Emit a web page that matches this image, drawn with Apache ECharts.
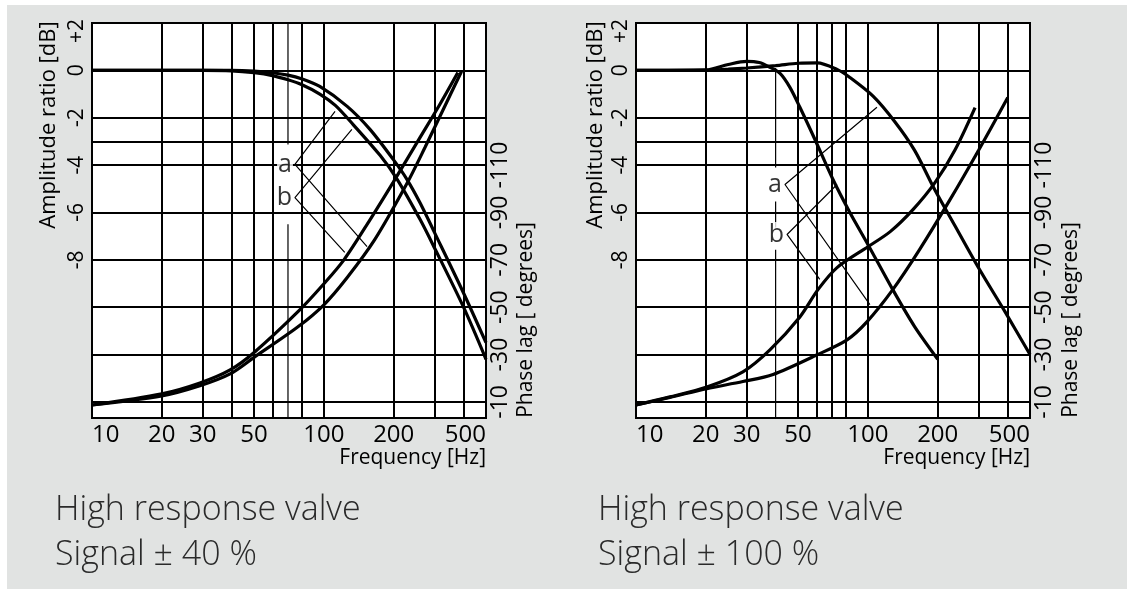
<!DOCTYPE html>
<html>
<head>
<meta charset="utf-8">
<script src="https://cdn.jsdelivr.net/npm/echarts@6/dist/echarts.min.js"></script>
<style>
html,body{margin:0;padding:0;background:#ffffff;}
#c{width:1133px;height:589px;}
</style>
</head>
<body>
<div id="c"></div>
<script>
// ---------- axis ticks / labels ----------
const xTickLabels = [10, 20, 30, 50, 100, 200, 500];
const xGridLeft  = [20, 30, 40, 50, 60, 80, 100, 200, 300, 400];
const xGridRight = [20, 30, 50, 60, 70, 80, 100, 200, 300, 400];
const ampLabels  = [2, 0, -2, -4, -6, -8];
const ampGrid    = [0, -2, -3, -4, -6, -8, -10, -12, -14];
const phaseLabels = [-10, -30, -50, -70, -90, -110];

// ---------- left chart: signal +-40 % (a = outer curves, b = inner curves) ----------
const ampFreqLa = [10, 20, 30, 40, 50, 60, 70, 80, 96, 126, 158, 199, 228, 260, 300, 400, 500];
const ampLa     = [0, 0, 0, 0, -0.03, -0.1, -0.2, -0.35, -0.68, -1.52, -2.49, -3.76, -4.6, -5.6, -6.85, -9.4, -11.5];
const ampFreqLb = [10, 20, 30, 40, 50, 60, 70, 80, 96, 112, 134, 175, 207, 260, 300, 400, 500];
const ampLb     = [0, 0, 0, -0.02, -0.1, -0.22, -0.4, -0.6, -1.0, -1.48, -2.3, -3.6, -4.6, -6.3, -7.5, -10.0, -12.2];

const phFreqLa = [10, 20, 29.2, 39.4, 50.3, 77.3, 100, 125.8, 165.6, 228, 272.7, 327, 392];
const phLa     = [-8.7, -12.5, -16.8, -21.8, -29.0, -41.7, -51.0, -62.4, -78.5, -102.2, -117.4, -133.5, -149.5];
const phFreqLb = [10, 20, 29.2, 39.4, 50.3, 77.3, 100, 122, 158, 198.6, 259.5, 316, 378];
const phLb     = [-8.7, -13.4, -18.0, -23.5, -31.1, -48.1, -59.9, -70.0, -86.9, -102.6, -121.6, -135.6, -149.1];

// ---------- right chart: signal +-100 % (a = outer/slower, b = steep/faster) ----------
const ampFreqRa = [10, 20, 25, 30, 40, 50, 60.4, 73.6, 83.6, 105.5, 130.4, 159, 194, 237, 303, 390, 500];
const ampRa     = [0, 0, 0.05, 0.1, 0.2, 0.3, 0.32, 0.04, -0.3, -1.1, -2.16, -3.38, -5.03, -6.55, -8.41, -10.19, -12.0];
const ampFreqRb = [10, 20, 25, 30, 34, 37.8, 41.8, 46.1, 50.9, 59.1, 70.7, 83.6, 100, 128, 159, 200];
const ampRb     = [0, 0.02, 0.25, 0.38, 0.33, 0.13, -0.13, -0.72, -1.56, -2.92, -4.61, -6.0, -7.35, -9.26, -10.82, -12.2];

const phFreqRa = [10, 14, 20.2, 28.9, 39, 60.4, 81.3, 99, 128, 167, 226, 301, 401];
const phRa     = [-8.7, -11.9, -15.6, -18.6, -21.6, -29.9, -36.2, -43.8, -57.4, -74.3, -95.4, -116.5, -138.5];
const phFreqRb = [10, 14, 20.2, 28.9, 37.8, 50.9, 60.9, 73.6, 100, 124.8, 156.4, 194.6, 237.7, 289.8];
const phRb     = [-8.7, -12.1, -16.3, -22.7, -32.0, -45.9, -57.4, -66.7, -75.5, -81.9, -91.2, -102.6, -116.5, -134.3];

// ---------- annotations (freq, dB) ----------
const annLa = [[111.7, -1.73], [75, -3.97], [153.5, -7.44]];
const annLb = [[132, -2.49], [75, -5.37], [123, -7.69]];
const annRa = [[109.4, -1.56], [43.9, -4.82], [102, -9.89]];
const annRb = [[73.6, -4.82], [44.8, -6.93], [62, -8.83]];
const leaderL = {freq: 70, segs: [[2, -3.13], [-6.5, -14.68]]};
const leaderR = {freq: 40, segs: [[0.1, -4.1], [-5.54, -6.64], [-7.57, -14.68]]};

const titles = ['High response valve', 'Signal \u00b1 40 %', 'Signal \u00b1 100 %'];

// ---------- build ----------
const FONT = "'Open Sans', 'Liberation Sans', sans-serif";
const AMP_MIN = -14.68, AMP_MAX = 2;
const PH_MIN = -170, PH_MAX = -3.2;
const zip = (xs, ys) => xs.map((x, i) => [x, ys[i]]);

function xAxisFor(idx, grid) {
  return {
    type: 'log', logBase: 10, min: 10, max: 500, gridIndex: idx,
    axisLine: {show: false},
    axisTick: {show: false, customValues: grid},
    splitLine: {show: true, lineStyle: {color: '#000', width: 2}},
    minorSplitLine: {show: false},
    axisLabel: {
      customValues: xTickLabels, margin: 5, fontSize: 24, color: '#000', fontFamily: FONT,
      alignMinLabel: 'left', alignMaxLabel: 'right',
      formatter: v => String(Math.round(v))
    }
  };
}
function ampAxisFor(idx) {
  return {
    type: 'value', gridIndex: idx, position: 'left', min: AMP_MIN, max: AMP_MAX,
    axisLine: {show: false},
    axisTick: {show: false, customValues: ampGrid},
    splitLine: {show: true, lineStyle: {color: '#000', width: 2}},
    axisLabel: {
      customValues: ampLabels, rotate: 90, margin: 4, fontSize: 21, color: '#000', fontFamily: FONT,
      formatter: v => (v > 0 ? '{top|+' + v + '}' : String(v)),
      rich: {top: {fontSize: 21, fontFamily: FONT, color: '#000', padding: [0, 16, 0, 0]}}
    }
  };
}
function phaseAxisFor(idx) {
  return {
    type: 'value', gridIndex: idx, position: 'right', inverse: true, min: PH_MIN, max: PH_MAX,
    axisLine: {show: false}, axisTick: {show: false}, splitLine: {show: false},
    axisLabel: {
      customValues: phaseLabels, rotate: 90, margin: 3, fontSize: 23, color: '#000', fontFamily: FONT,
      formatter: v => String(v)
    }
  };
}

const series = [];
function curve(xi, yi, xs, ys, w) {
  series.push({
    type: 'line', xAxisIndex: xi, yAxisIndex: yi, data: zip(xs, ys),
    showSymbol: false, smooth: 0.3, silent: true, animation: false,
    lineStyle: {color: '#000', width: w}, z: 5
  });
}
function poly(xi, yi, pts, w) {
  series.push({
    type: 'line', xAxisIndex: xi, yAxisIndex: yi, data: pts,
    showSymbol: false, smooth: false, silent: true, animation: false,
    lineStyle: {color: '#000', width: w}, z: 4
  });
}
function label(xi, yi, pt, txt) {
  series.push({
    type: 'scatter', xAxisIndex: xi, yAxisIndex: yi, data: [pt],
    symbol: 'circle', symbolSize: 2, itemStyle: {color: 'rgba(0,0,0,0)'}, silent: true, animation: false, z: 6,
    label: {show: true, position: 'left', distance: 1, formatter: txt, fontSize: 25,
            color: '#000', fontFamily: FONT, backgroundColor: '#fff', padding: [0, 1, 0, 1]}
  });
}

// left chart (grid 0: x 0, amp y 0, phase y 1)
curve(0, 0, ampFreqLa, ampLa, 3.2);
curve(0, 0, ampFreqLb, ampLb, 3.2);
curve(0, 1, phFreqLa, phLa, 3.2);
curve(0, 1, phFreqLb, phLb, 3.2);
poly(0, 0, annLa, 1.2);
poly(0, 0, annLb, 1.2);
leaderL.segs.forEach(s => poly(0, 0, [[leaderL.freq, s[0]], [leaderL.freq, s[1]]], 1.2));
label(0, 0, annLa[1], 'a');
label(0, 0, annLb[1], 'b');

// right chart (grid 1: x 1, amp y 2, phase y 3)
curve(1, 2, ampFreqRa, ampRa, 3.2);
curve(1, 2, ampFreqRb, ampRb, 3.2);
curve(1, 3, phFreqRa, phRa, 3.2);
curve(1, 3, phFreqRb, phRb, 3.2);
poly(1, 2, annRa, 1.2);
poly(1, 2, annRb, 1.2);
leaderR.segs.forEach(s => poly(1, 2, [[leaderR.freq, s[0]], [leaderR.freq, s[1]]], 1.2));
label(1, 2, annRa[1], 'a');
label(1, 2, annRb[1], 'b');

function rotText(x, y, txt, size) {
  return {type: 'text', x: x, y: y, rotation: Math.PI / 2, z: 10,
    style: {text: txt, fill: '#000', font: size + 'px ' + FONT, align: 'center', verticalAlign: 'middle'}};
}
function plainText(x, y, txt, size, weight) {
  return {type: 'text', x: x, y: y, z: 10,
    style: {text: txt, fill: '#2a2a2a', font: weight + ' ' + size + 'px ' + FONT, align: 'left', verticalAlign: 'middle'}};
}

const option = {
  animation: false,
  grid: [
    {left: 92, top: 23, width: 394, height: 395, show: true, backgroundColor: '#fff', borderColor: '#000', borderWidth: 2},
    {left: 636, top: 23, width: 394, height: 395, show: true, backgroundColor: '#fff', borderColor: '#000', borderWidth: 2}
  ],
  xAxis: [xAxisFor(0, xGridLeft), xAxisFor(1, xGridRight)],
  yAxis: [ampAxisFor(0), phaseAxisFor(0), ampAxisFor(1), phaseAxisFor(1)],
  series: series,
  graphic: [
    {type: 'rect', z: -10, shape: {x: 7, y: 5, width: 1120, height: 584}, style: {fill: '#e1e3e2'}},
    rotText(49, 125, 'Amplitude ratio [dB]', 22),
    rotText(526, 320, 'Phase lag [ degrees]', 21),
    rotText(596, 125, 'Amplitude ratio [dB]', 22),
    rotText(1071, 320, 'Phase lag [ degrees]', 21),
    {type: 'text', x: 486, y: 458, z: 10, style: {text: 'Frequency [Hz]', fill: '#000', font: '21px ' + FONT, align: 'right', verticalAlign: 'middle'}},
    {type: 'text', x: 1030, y: 458, z: 10, style: {text: 'Frequency [Hz]', fill: '#000', font: '21px ' + FONT, align: 'right', verticalAlign: 'middle'}},
    plainText(55, 510, titles[0], 34, 300),
    plainText(55, 555, titles[1], 34, 300),
    plainText(598, 510, titles[0], 34, 300),
    plainText(598, 555, titles[2], 34, 300)
  ]
};
const chart = echarts.init(document.getElementById('c'), null, {renderer: 'canvas'});
chart.setOption(option);
</script>
</body>
</html>
